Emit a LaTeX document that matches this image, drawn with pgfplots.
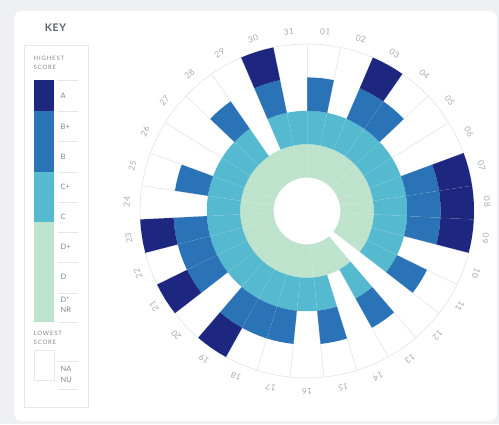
\documentclass[border=0pt]{standalone}
\usepackage{fontspec}
\setmainfont{Lato}
\usepackage{pgfplots}
\usepackage{pgfplotstable}
\pgfplotsset{compat=1.18}
\definecolor{bgc}{HTML}{EEF0F4}
\definecolor{cA}{HTML}{1E2780}
\definecolor{cB}{HTML}{2A73B7}
\definecolor{cC}{HTML}{55B9D0}
\definecolor{cD}{HTML}{BEE3CD}
\definecolor{gridc}{HTML}{E4E7EB}
\definecolor{lblc}{HTML}{A3AEB7}
\definecolor{keyt}{HTML}{7D8891}
\definecolor{keyh}{HTML}{55626C}

% level reached by each segment: 0 = NA/NU, 1 = D, 2 = C, 3 = B, 4 = A
\pgfplotstableread{
seg level
01 3
02 2
03 4
04 3
05 2
06 2
07 4
08 4
09 4
10 2
11 3
12 0
13 3
14 1
15 3
16 2
17 3
18 3
19 4
20 2
21 4
22 3
23 4
24 2
25 3
26 2
27 2
28 3
29 1
30 4
31 2
}\scores

\newcommand\drawlevel[2]{%
  \pgfmathsetmacro\rin{#1}%
  \pgfmathsetmacro\rout{#1+1}%
  \edef\cmd{\noexpand\addplot[draw=none, fill=#2, data cs=polar] coordinates {(\aA,\rout) (\aB,\rout) (\aC,\rout) (\aD,\rout) (\aE,\rout) (\aE,\rin) (\aD,\rin) (\aC,\rin) (\aB,\rin) (\aA,\rin)};}%
  \cmd
}

\begin{document}
\begin{tikzpicture}[x=1bp,y=1bp]
\path[use as bounding box, fill=bgc] (0,0) rectangle (499,424);
\fill[white, rounded corners=8bp] (14,3) rectangle (497,413);

% key
\node[font=\bfseries\fontsize{10.5}{12}\selectfont\addfontfeatures{LetterSpace=6}, text=keyh] at (55.5,396) {KEY};
\draw[gridc, line width=0.7bp] (24,17) rectangle (88,379);
\node[anchor=west, inner sep=0, font=\fontsize{6}{7}\selectfont\addfontfeatures{LetterSpace=14}, text=keyt] at (33.5,366) {HIGHEST};
\node[anchor=west, inner sep=0, font=\fontsize{6}{7}\selectfont\addfontfeatures{LetterSpace=14}, text=keyt] at (33.5,356.5) {SCORE};
\fill[cA] (34,313) rectangle (54,344);
\fill[cB] (34,252) rectangle (54,313);
\fill[cC] (34,202) rectangle (54,252);
\fill[cD] (34,102) rectangle (54,202);
\foreach \yy in {344,313,283,252,222,192,162,131,102,63,35}
  \draw[gridc, line width=0.6bp] (58,\yy) -- (78,\yy);
\foreach \yy/\tt in {328/A,297/B+,267/B,237/C+,207/C,177/D+,147/D,124.5/D*,114/NR,55/NA,44.5/NU}
  \node[anchor=west, inner sep=0, font=\fontsize{7.5}{8}\selectfont, text=keyt] at (60.5,\yy) {\tt};
\node[anchor=west, inner sep=0, font=\fontsize{6}{7}\selectfont\addfontfeatures{LetterSpace=14}, text=keyt] at (33.5,91) {LOWEST};
\node[anchor=west, inner sep=0, font=\fontsize{6}{7}\selectfont\addfontfeatures{LetterSpace=14}, text=keyt] at (33.5,81.5) {SCORE};
\draw[gridc, line width=0.6bp, fill=white] (34,44) rectangle (54,74);

\begin{axis}[anchor=origin, at={(307bp,213bp)}, x=33.4bp, y=33.4bp,
  xmin=-5.7, xmax=5.7, ymin=-5.7, ymax=5.7, hide axis, clip=false]
  % outer circle
  \def\circpts{}%
  \pgfplotsforeachungrouped \j in {0,...,124}{%
    \pgfmathsetmacro\ang{\j*(360/124)}%
    \xdef\circpts{\circpts (\ang,5)}%
  }%
  \edef\cmd{\noexpand\addplot[gridc, line width=0.7bp, data cs=polar] coordinates {\circpts};}\cmd
  % radial grid lines
  \pgfplotsforeachungrouped \i in {0,...,30}{%
    \pgfmathsetmacro\aA{90-\i*(360/31)}%
    \edef\cmd{\noexpand\addplot[gridc, line width=0.7bp, data cs=polar] coordinates {(\aA,1) (\aA,5)};}\cmd
  }%
  % bars
  \pgfplotsforeachungrouped \i in {0,...,30}{%
    \pgfplotstablegetelem{\i}{level}\of\scores
    \edef\L{\pgfplotsretval}%
    \pgfmathsetmacro\aA{90-\i*(360/31)}%
    \pgfmathsetmacro\aB{\aA-90/31}%
    \pgfmathsetmacro\aC{\aA-180/31}%
    \pgfmathsetmacro\aD{\aA-270/31}%
    \pgfmathsetmacro\aE{\aA-360/31}%
    \ifnum\L>0 \drawlevel{1}{cD}\fi
    \ifnum\L>1 \drawlevel{2}{cC}\fi
    \ifnum\L>2 \drawlevel{3}{cB}\fi
    \ifnum\L>3 \drawlevel{4}{cA}\fi
  }%
  % faint separators over bars
  \pgfplotsforeachungrouped \i in {0,...,30}{%
    \pgfmathsetmacro\aA{90-\i*(360/31)}%
    \edef\cmd{\noexpand\addplot[white, opacity=0.13, line width=0.4bp, data cs=polar] coordinates {(\aA,1) (\aA,5)};}\cmd
  }%
  % labels
  \pgfplotsforeachungrouped \i in {0,...,30}{%
    \pgfmathsetmacro\am{90-(\i+0.5)*(360/31)}%
    \pgfmathsetmacro\lx{5.4*cos(\am)}%
    \pgfmathsetmacro\ly{5.4*sin(\am)}%
    \pgfmathsetmacro\rot{\am-90}%
    \pgfmathtruncatemacro\n{\i+1}%
    \edef\cmd{\noexpand\node[rotate=\rot, text=lblc, inner sep=0, font=\noexpand\fontsize{8.5}{9}\noexpand\selectfont\noexpand\addfontfeatures{LetterSpace=4}] at (axis cs:\lx,\ly) {\ifnum\n<10 0\fi\n};}\cmd
  }%
\end{axis}
\end{tikzpicture}
\end{document}
